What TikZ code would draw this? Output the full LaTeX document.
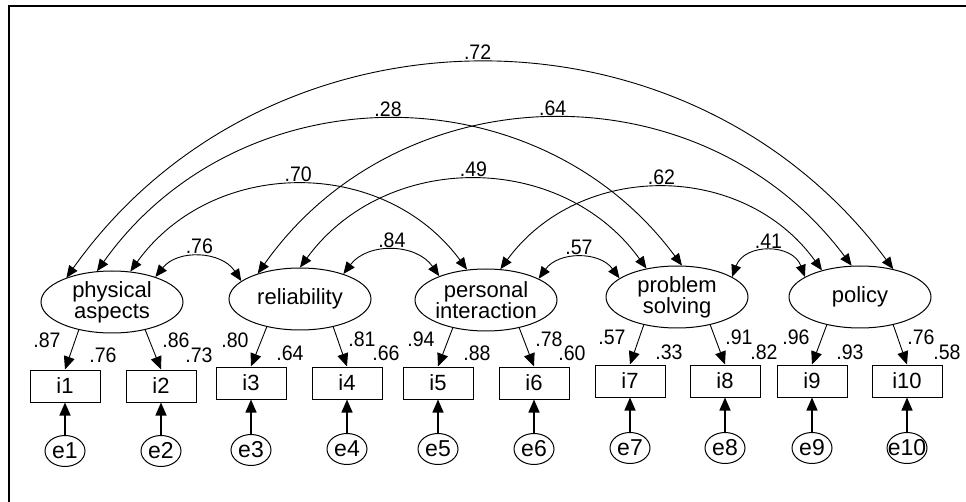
\documentclass[tikz,border=0pt]{standalone}
\usepackage{fontspec}
\setmainfont{Liberation Sans}
\newfontfamily\condfont[FakeStretch=0.93]{Liberation Sans}
\usetikzlibrary{shapes.geometric,arrows.meta}
\begin{document}
\begin{tikzpicture}[x=1pt,y=-1pt,
  every node/.style={font=\fontsize{22}{21}\selectfont},
  latent/.style={draw, ellipse, line width=1pt, minimum width=142pt, minimum height=62pt, inner xsep=-2pt, inner ysep=0pt, align=center},
  indicator/.style={draw, rectangle, line width=1pt, minimum width=70pt, minimum height=32pt, inner sep=0pt},
  errnode/.style={draw, ellipse, line width=1pt, minimum width=40pt, minimum height=31pt, inner xsep=-7pt, inner ysep=0pt, font=\fontsize{23}{23}\selectfont},
  headtip/.style={-{Triangle[length=13pt,width=11pt]}},
  loadline/.style={line width=0.9pt, headtip},
  errpath/.style={line width=1.4pt, headtip},
  cov/.style={line width=0.9pt, {Triangle[length=12pt,width=10pt]}-{Triangle[length=12pt,width=10pt]}, bend left=54, looseness=1.07},
  lab/.style={font=\condfont\fontsize{21}{21}\selectfont, inner sep=0pt},
  arclab/.style={lab, above, inner sep=3pt}
]
\useasboundingbox (0,0) rectangle (966,502);
% outer frame (top and left edges)
\draw[line width=2pt] (9,502) -- (9,6) -- (966,6);

% latent factors
\node[latent] (pa)    at (112,302) {physical\\aspects};
\node[latent] (rel)   at (300,299) {reliability};
\node[latent] (inter) at (486,300) {personal\\interaction};
\node[latent] (solve) at (677,297) {problem\\solving};
\node[latent] (pol)   at (860,297) {policy};

% observed indicators
\node[indicator] (i1)  at (65,386)  {i1};
\node[indicator] (i2)  at (161,386) {i2};
\node[indicator] (i3)  at (251,383) {i3};
\node[indicator] (i4)  at (347,383) {i4};
\node[indicator] (i5)  at (438,383) {i5};
\node[indicator] (i6)  at (534,383) {i6};
\node[indicator] (i7)  at (630,381) {i7};
\node[indicator] (i8)  at (725,381) {i8};
\node[indicator] (i9)  at (812,381) {i9};
\node[indicator] (i10) at (907,381) {i10};

% error terms
\node[errnode] (e1)  at (65,451)  {e1};
\node[errnode] (e2)  at (161,451) {e2};
\node[errnode] (e3)  at (251,450) {e3};
\node[errnode] (e4)  at (347,449) {e4};
\node[errnode] (e5)  at (438,449) {e5};
\node[errnode] (e6)  at (534,449) {e6};
\node[errnode] (e7)  at (630,448) {e7};
\node[errnode] (e8)  at (725,448) {e8};
\node[errnode] (e9)  at (812,448) {e9};
\node[errnode] (e10) at (907,448) {e10};

% error paths
\foreach \k in {1,...,10}
  \draw[errpath] (e\k) -- (i\k);

% factor loadings
\draw[loadline] (pa.220)    -- (i1.north);
\draw[loadline] (pa.320)    -- (i2.north);
\draw[loadline] (rel.220)   -- (i3.north);
\draw[loadline] (rel.320)   -- (i4.north);
\draw[loadline] (inter.220) -- (i5.north);
\draw[loadline] (inter.320) -- (i6.north);
\draw[loadline] (solve.220) -- (i7.north);
\draw[loadline] (solve.320) -- (i8.north);
\draw[loadline] (pol.220)   -- (i9.north);
\draw[loadline] (pol.320)   -- (i10.north);

% standardized loadings and squared multiple correlations
\node[lab] (w1)  at (47,340)  {.87};
\node[lab] (s1)  at (103,355) {.76};
\node[lab] (w2)  at (176,340) {.86};
\node[lab] (s2)  at (199,355) {.73};
\node[lab] (w3)  at (235,340) {.80};
\node[lab] (s3)  at (290,353) {.64};
\node[lab] (w4)  at (362,339) {.81};
\node[lab] (s4)  at (386,353) {.66};
\node[lab] (w5)  at (421,339) {.94};
\node[lab] (s5)  at (477,353) {.88};
\node[lab] (w6)  at (549,339) {.78};
\node[lab] (s6)  at (572,353) {.60};
\node[lab] (w7)  at (612,337) {.57};
\node[lab] (s7)  at (669,352) {.33};
\node[lab] (w8)  at (739,337) {.91};
\node[lab] (s8)  at (764,352) {.82};
\node[lab] (w9)  at (796,337) {.96};
\node[lab] (s9)  at (850,352) {.93};
\node[lab] (w10) at (921,337) {.76};
\node[lab] (s10) at (947,352) {.58};

% factor correlations
\draw[cov] (pa.152)    to node[arclab] (c72) {.72} (pol.40);
\draw[cov] (pa.116)    to node[arclab] (c28) {.28} (solve.81);
\draw[cov] (rel.149)   to node[arclab] (c64) {.64} (pol.105);
\draw[cov] (pa.59)     to node[arclab] (c70) {.70} (inter.122);
\draw[cov] (rel.90)    to node[arclab] (c49) {.49} (solve.137);
\draw[cov] (inter.65)  to node[arclab] (c62) {.62} (pol.145);
\draw[cov] (pa.30)     to node[arclab] (c76) {.76} (rel.163);
\draw[cov] (rel.30)    to node[arclab] (c84) {.84} (inter.153);
\draw[cov] (inter.22)  to node[arclab] (c57) {.57} (solve.162);
\draw[cov, bend left=70, looseness=1.27] (solve.20) to node[arclab] (c41) {.41} (pol.160);
\end{tikzpicture}
\end{document}
